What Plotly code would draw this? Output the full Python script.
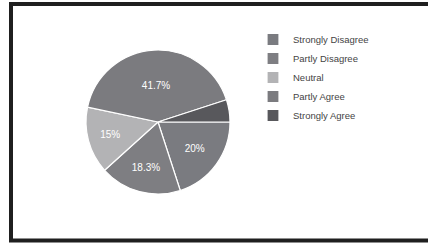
import plotly.graph_objects as go

labels = ["Strongly Disagree", "Partly Disagree", "Neutral", "Partly Agree", "Strongly Agree"]
values = [20, 18.3, 15, 41.7, 5]
colors = ["#7a7b80", "#7e7e82", "#b3b3b5", "#7b7b7f", "#58585c"]
show_label = [True, True, True, True, False]

W, H = 428, 244
FONT = "Liberation Sans, Arial, sans-serif"

fig = go.Figure()
fig.add_trace(go.Pie(
    labels=labels,
    values=values,
    sort=False,
    direction="clockwise",
    rotation=90,
    marker=dict(colors=colors, line=dict(color="#ffffff", width=1.2)),
    texttemplate=["%{percent:.3~p}" if s else "" for s in show_label],
    textposition="inside",
    insidetextorientation="horizontal",
    textfont=dict(family=FONT, size=10, color="#ffffff"),
    hoverinfo="label+percent",
    domain=dict(x=[(158 - 72) / W, (158 + 72) / W], y=[(122 - 72) / H, (122 + 72) / H]),
))

fig.update_layout(
    width=W, height=H,
    margin=dict(l=0, r=0, t=0, b=0),
    paper_bgcolor="#ffffff",
    plot_bgcolor="#ffffff",
    showlegend=True,
    legend=dict(
        x=253 / W, y=1 - 25 / H, xanchor="left", yanchor="top",
        font=dict(family=FONT, size=9.5, color="#444444"),
        itemwidth=30, tracegroupgap=0, bgcolor="rgba(0,0,0,0)",
    ),
    shapes=[dict(
        type="rect", xref="paper", yref="paper",
        x0=11 / W, x1=1.05, y0=1 - 240.5 / H, y1=1 - 4 / H,
        line=dict(color="#1f1f1f", width=4), fillcolor="rgba(0,0,0,0)",
    )],
)

fig.write_html(
    "out.html",
    config={"displayModeBar": False},
    post_script="document.body.style.margin='0';document.body.style.overflow='hidden';",
)
